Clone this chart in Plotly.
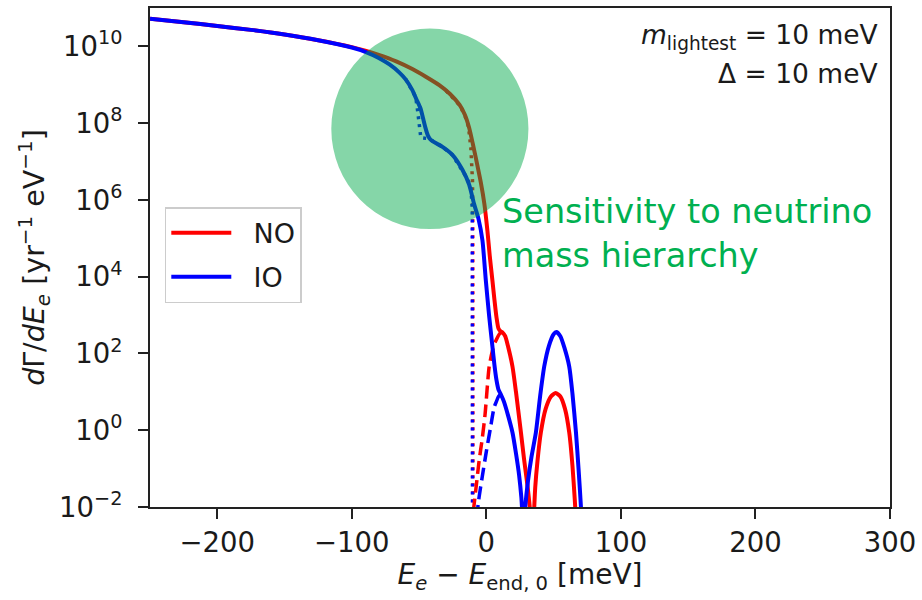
import plotly.graph_objects as go

# ---------------- data (x in meV, y as log10 of dGamma/dE) ----------------
no_x = [-250, -225, -200, -175, -150, -125, -100, -90, -80, -67, -55, -45, -35, -27, -20, -16,
        -12.8, -10, -7.8, -4.1, -1.5, 0.8, 2.5, 4.5, 6, 7.5, 9, 10.5, 12, 14, 16, 19.4, 22,
        25.7, 28, 30.6, 32.5, 34, 35.2, 36.3, 38, 40.5, 44, 48, 51.5, 55, 58.5, 61.6, 64,
        65.7, 67, 68]
no_log = [10.72, 10.63, 10.53, 10.43, 10.31, 10.16, 9.98, 9.89, 9.78, 9.61, 9.41, 9.21, 8.99,
          8.76, 8.48, 8.22, 7.88, 7.45, 7.09, 6.45, 5.90, 5.19, 4.55, 3.90, 3.40, 2.95, 2.65,
          2.58, 2.55, 2.45, 2.20, 1.66, 1.00, -0.06, -0.75, -1.45, -2.10, -2.90, -2.30, -1.50,
          -0.80, -0.06, 0.55, 0.88, 0.97, 0.88, 0.55, -0.06, -0.93, -1.80, -2.60, -3.50]

io_x = [-250, -225, -200, -175, -150, -125, -100, -90, -80, -72, -65, -60, -55, -52, -49, -47,
        -45.2, -43.5, -41.5, -37, -32.9, -25.4, -17.9, -12.8, -9.1, -5.8, -2.9, -0.4, 2, 4.5,
        6, 7.5, 9, 10.8, 13, 16, 19.4, 22, 24.4, 26, 27.8, 28.9, 31, 33.5, 36.8, 40, 43, 46.5,
        50, 52, 55, 58, 61.6, 64, 66.6, 68.5, 70.3, 71.3]
io_log = [10.72, 10.63, 10.53, 10.43, 10.31, 10.16, 9.97, 9.86, 9.70, 9.53, 9.33, 9.14, 8.86,
          8.62, 8.39, 8.12, 7.87, 7.68, 7.57, 7.47, 7.39, 7.18, 6.79, 6.40, 5.89, 5.50, 4.94,
          3.90, 3.00, 2.18, 1.70, 1.31, 1.06, 0.93, 0.75, 0.40, -0.06, -0.60, -1.19, -1.75,
          -2.70, -2.00, -1.30, -0.70, -0.06, 0.90, 1.66, 2.20, 2.50, 2.56, 2.45, 2.15, 1.66,
          0.95, -0.06, -1.00, -2.00, -2.80]

# unsmeared spectra (dotted)
no_dot_x = [-30, -20, -16, -13.3, -11.5, -10.3, -10.1, -10.0]
no_dot_log = [8.85, 8.47, 8.20, 7.91, 7.35, 6.49, 5.50, -3.0]
io_dot_x = [-60, -55, -52.5, -51, -49.7, -48.7, -44, -41.5, -37, -32.9, -25.4, -17.9, -14,
            -11.5, -10.5, -10.3]
io_dot_log = [9.15, 8.86, 8.68, 8.30, 7.80, 7.62, 7.60, 7.57, 7.47, 7.39, 7.18, 6.79, 6.55,
              6.30, 5.80, -3.0]

# relic-neutrino capture peaks alone (dashed)
no_dash_x = [12, 10, 8, 6, 4.5, 2.1, -1, -3, -5.4, -8, -10]
no_dash_log = [2.55, 2.52, 2.40, 2.25, 2.07, 1.66, 0.40, -0.20, -0.80, -1.60, -2.20]
io_dash_x = [10.8, 9, 7.5, 5.8, 3, 0, -3, -5.4, -7]
io_dash_log = [0.93, 0.88, 0.75, 0.60, 0.05, -0.55, -1.20, -1.74, -2.20]

x_ticks = [-200, -100, 0, 100, 200, 300]
x_ticktext = ["\u2212200", "\u2212100", "0", "100", "200", "300"]
y_exps = [-2, 0, 2, 4, 6, 8, 10]


def lin(v):
    return [10 ** a for a in v]


RED = "#ff0000"
BLUE = "#0000ff"
NB = "\u00a0"

fig = go.Figure()
fig.add_trace(go.Scatter(x=no_dot_x, y=lin(no_dot_log), mode="lines", showlegend=False,
                         line=dict(color=RED, width=3.5, dash="3px,5px")))
fig.add_trace(go.Scatter(x=io_dot_x, y=lin(io_dot_log), mode="lines", showlegend=False,
                         line=dict(color=BLUE, width=3.5, dash="3px,5px")))
fig.add_trace(go.Scatter(x=no_dash_x, y=lin(no_dash_log), mode="lines", showlegend=False,
                         line=dict(color=RED, width=3.5, dash="13px,6px", shape="spline", smoothing=0.6)))
fig.add_trace(go.Scatter(x=io_dash_x, y=lin(io_dash_log), mode="lines", showlegend=False,
                         line=dict(color=BLUE, width=3.5, dash="13px,6px", shape="spline", smoothing=0.6)))
fig.add_trace(go.Scatter(x=no_x, y=lin(no_log), mode="lines", name=NB * 2 + "NO", legendgroup="no",
                         line=dict(color=RED, width=4, shape="spline", smoothing=0.6)))
fig.add_trace(go.Scatter(x=io_x, y=lin(io_log), mode="lines", name=NB * 2 + "IO", legendgroup="io",
                         line=dict(color=BLUE, width=4, shape="spline", smoothing=0.6)))

axis_common = dict(showline=True, linecolor="#222222", linewidth=2, mirror=True,
                   ticks="outside", ticklen=10, tickwidth=2, tickcolor="#222222",
                   showgrid=False, zeroline=False,
                   tickfont=dict(family="DejaVu Sans", size=27.5, color="#1a1a1a"))

fig.update_xaxes(range=[-250, 300], tickvals=x_ticks, ticktext=x_ticktext,
                 title=dict(text="<i>E</i><sub><i>e</i></sub> \u2212 <i>E</i><sub>end, 0</sub> [meV]",
                            font=dict(family="DejaVu Sans", size=28, color="#1a1a1a"), standoff=6),
                 **axis_common)
fig.update_yaxes(type="log", range=[-2, 11], tickvals=[10 ** e for e in y_exps],
                 ticktext=["10<sup>%s</sup>" % (str(e).replace("-", "\u2212")) for e in y_exps],
                 ticklabelstandoff=10,
                 title=dict(text="<i>d</i>\u0393/<i>dE</i><sub><i>e</i></sub> [yr<sup>\u22121</sup> eV<sup>\u22121</sup>]",
                            font=dict(family="DejaVu Sans", size=28.5, color="#1a1a1a"), standoff=6),
                 **axis_common)

fig.add_shape(type="circle", xref="paper", yref="paper", x0=0.245, x1=0.5114, y0=0.557, y1=0.959,
              fillcolor="rgba(0,170,74,0.48)", line=dict(width=0), layer="above")

fig.add_annotation(xref="paper", yref="paper", x=0.987, y=0.943, xanchor="right", yanchor="middle",
                   text="<i>m</i><sub>lightest</sub>" + NB + "=" + NB + "10 meV", showarrow=False,
                   font=dict(family="DejaVu Sans", size=26.5, color="#1a1a1a"))
fig.add_annotation(xref="paper", yref="paper", x=0.987, y=0.869, xanchor="right", yanchor="middle",
                   text="\u0394" + NB + "=" + NB + "10 meV", showarrow=False,
                   font=dict(family="DejaVu Sans", size=26.5, color="#1a1a1a"))
fig.add_annotation(xref="paper", yref="paper", x=0.473, y=0.549, xanchor="left", yanchor="middle",
                   align="left", text="Sensitivity to neutrino<br>mass hierarchy", showarrow=False,
                   font=dict(family="DejaVu Sans", size=33.5, color="#00B050"))

fig.update_layout(
    width=922, height=600,
    margin=dict(l=150, r=29, t=6, b=93),
    plot_bgcolor="white", paper_bgcolor="white",
    font=dict(family="DejaVu Sans", size=27, color="#1a1a1a"),
    legend=dict(x=0.02, y=0.601, xanchor="left", yanchor="top",
                bgcolor="rgba(255,255,255,0.8)", bordercolor="#cccccc", borderwidth=1.5,
                font=dict(family="DejaVu Sans", size=27, color="#1a1a1a"),
                itemwidth=60, tracegroupgap=6),
)

fig.write_html("out.html")
